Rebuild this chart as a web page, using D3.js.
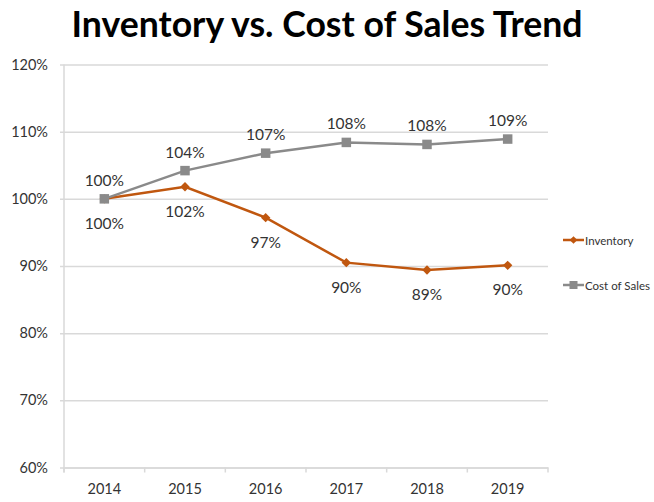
<!DOCTYPE html>
<html>
<head>
<meta charset="utf-8">
<script src="https://cdn.jsdelivr.net/npm/d3@7"></script>
<style>
  html, body { margin: 0; padding: 0; background: #fff; }
  svg { display: block; font-family: Lato, "Open Sans", sans-serif; }
</style>
</head>
<body>
<svg id="chart" width="654" height="502"></svg>
<script>
const title = "Inventory vs. Cost of Sales Trend";
const years = ["2014", "2015", "2016", "2017", "2018", "2019"];
const inventory = [100, 101.8, 97.2, 90.5, 89.4, 90.1];
const costOfSales = [100, 104.2, 106.8, 108.4, 108.1, 108.9];
const inventoryLabels = ["100%", "102%", "97%", "90%", "89%", "90%"];
const costLabels = ["100%", "104%", "107%", "108%", "108%", "109%"];
const yTicks = [60, 70, 80, 90, 100, 110, 120];
const seriesNames = ["Inventory", "Cost of Sales"];

const W = 654, H = 502;
const margin = { left: 64, right: 106, top: 64.5, bottom: 34.5 };
const svg = d3.select("#chart");

const x = d3.scaleBand().domain(years).range([margin.left, W - margin.right]);
const y = d3.scaleLinear().domain([60, 120]).range([H - margin.bottom, margin.top]);

const textColor = "#333333";
const gridColor = "#d9d9d9";
const invColor = "#c0570f";
const costColor = "#8a8a8a";

// Title
const t = svg.append("text")
  .attr("x", W / 2).attr("y", 37)
  .attr("text-anchor", "middle")
  .attr("font-weight", "bold")
  .attr("font-size", 34)
  .attr("fill", "#000")
  .text(title);
const tw = t.node().getComputedTextLength();
t.attr("font-size", 34 * 511 / tw);

// Gridlines
const yAxis = d3.axisLeft(y).tickValues(yTicks)
  .tickSize(-(W - margin.right - margin.left + 4))
  .tickPadding(12)
  .tickFormat(d => d + "%");
const gy = svg.append("g").attr("transform", `translate(${margin.left - 4},0)`).call(yAxis);
gy.select(".domain").remove();
gy.selectAll(".tick line").attr("stroke", gridColor).attr("stroke-width", 1.5);
gy.selectAll(".tick text").attr("fill", textColor).attr("font-size", 14.5).attr("font-family", "Lato");

// Left vertical axis line
svg.append("line")
  .attr("x1", margin.left).attr("x2", margin.left)
  .attr("y1", y(120)).attr("y2", y(60) + 5)
  .attr("stroke", gridColor).attr("stroke-width", 1.5);

// Bottom axis with band ticks
const xAxis = d3.axisBottom(x).tickSize(0).tickPadding(16);
const gx = svg.append("g").attr("transform", `translate(0,${y(60)})`).call(xAxis);
gx.select(".domain").attr("stroke", gridColor).attr("stroke-width", 1.5);
gx.selectAll(".tick text").attr("fill", textColor).attr("font-size", 14.5).attr("font-family", "Lato");
gx.selectAll(".bandtick").data(years.concat(["end"])).enter().append("line")
  .attr("x1", (d, i) => margin.left + i * x.bandwidth())
  .attr("x2", (d, i) => margin.left + i * x.bandwidth())
  .attr("y1", 0).attr("y2", 5)
  .attr("stroke", gridColor).attr("stroke-width", 1.5);

const cx = d => x(d) + x.bandwidth() / 2;
const line = d3.line().x(d => cx(d[0])).y(d => y(d[1]));

const costData = years.map((yr, i) => [yr, costOfSales[i]]);
const invData = years.map((yr, i) => [yr, inventory[i]]);

// Inventory line (drawn first, underneath)
svg.append("path").datum(invData)
  .attr("d", line).attr("fill", "none")
  .attr("stroke", invColor).attr("stroke-width", 2.5);
const diamond = d3.symbol().type(d3.symbolSquare).size(44);
svg.selectAll(".invMark").data(invData).enter().append("path")
  .attr("d", diamond)
  .attr("transform", d => `translate(${cx(d[0])},${y(d[1])}) rotate(45)`)
  .attr("fill", invColor);

// Cost of Sales line (on top)
svg.append("path").datum(costData)
  .attr("d", line).attr("fill", "none")
  .attr("stroke", costColor).attr("stroke-width", 2.5);
svg.selectAll(".costMark").data(costData).enter().append("rect")
  .attr("x", d => cx(d[0]) - 4.75).attr("y", d => y(d[1]) - 4.75)
  .attr("width", 9.5).attr("height", 9.5).attr("fill", costColor);

// Data labels
svg.selectAll(".costLbl").data(costData).enter().append("text")
  .attr("x", d => cx(d[0])).attr("y", d => y(d[1]) - 19)
  .attr("text-anchor", "middle").attr("dominant-baseline", "central")
  .attr("font-size", 15.5).attr("fill", textColor)
  .text((d, i) => costLabels[i]);
svg.selectAll(".invLbl").data(invData).enter().append("text")
  .attr("x", d => cx(d[0])).attr("y", d => y(d[1]) + 24)
  .attr("text-anchor", "middle").attr("dominant-baseline", "central")
  .attr("font-size", 15.5).attr("fill", textColor)
  .text((d, i) => inventoryLabels[i]);

// Legend
const legY = [240, 285];
const legColors = [invColor, costColor];
seriesNames.forEach((name, i) => {
  const g = svg.append("g").attr("transform", `translate(563,${legY[i]})`);
  g.append("line").attr("x1", 0).attr("x2", 21).attr("y1", 0).attr("y2", 0)
    .attr("stroke", legColors[i]).attr("stroke-width", 2.5);
  if (i === 0) {
    g.append("path").attr("d", d3.symbol().type(d3.symbolSquare).size(30))
      .attr("transform", "translate(10.5,0) rotate(45)").attr("fill", legColors[i]);
  } else {
    g.append("rect").attr("x", 6.5).attr("y", -4).attr("width", 8).attr("height", 8)
      .attr("fill", legColors[i]);
  }
  g.append("text").attr("x", 22).attr("y", 0)
    .attr("dominant-baseline", "central")
    .attr("font-size", 11.5).attr("fill", textColor)
    .text(name);
});
</script>
</body>
</html>
